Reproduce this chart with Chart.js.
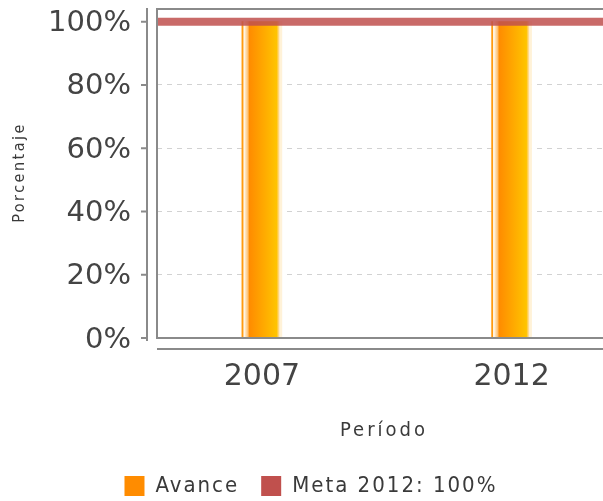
<!DOCTYPE html>
<html>
<head>
<meta charset="utf-8">
<script src="https://cdn.jsdelivr.net/npm/chart.js@4/dist/chart.umd.min.js"></script>
<style>
  html, body { margin: 0; padding: 0; background: #fff; overflow: hidden; }
  #wrap { width: 603px; height: 501px; overflow: hidden; }
  #box { width: 622px; height: 501px; }
</style>
</head>
<body>
<div id="wrap"><div id="box"><canvas id="myChart"></canvas></div></div>
<script>
// Data
const years = [2007, 2012];
const avance = [100, 100];
const meta = 100;
const yTicks = [0, 20, 40, 60, 80, 100];
const xRange = [2004.9, 2013.95];

const ORANGE = '#FF8C00';
const RED = '#C0504D';
const FONT = "'DejaVu Sans', sans-serif";
const FONT_C = "'DejaVu Sans Condensed', 'DejaVu Sans', sans-serif";

// gradient for each bar, built from its own pixel position
function barFill(c) {
    const chart = c.chart;
    if (!chart.chartArea || c.type !== 'data') return ORANGE;
    const x = chart.scales.x.getPixelForValue(c.raw.x);
    const g = chart.ctx.createLinearGradient(x - 22, 0, x + 18, 0);
    g.addColorStop(0, 'rgba(255,200,130,1)');
    g.addColorStop(0.04, '#ff9a10');
    g.addColorStop(0.08, '#ff9a10');
    g.addColorStop(0.1, '#ffffff');
    g.addColorStop(0.14, '#ffe4bd');
    g.addColorStop(0.2, '#ffc070');
    g.addColorStop(0.24, '#ff8c00');
    g.addColorStop(0.92, '#ffc400');
    g.addColorStop(0.97, '#ffd888');
    g.addColorStop(1, '#fff2d8');
    return g;
}

// plot frame and the detached axis lines
const framePlugin = {
    id: 'frame',
    afterDatasetsDraw(chart) {
        const { ctx, chartArea: a, scales } = chart;
        ctx.save();
        ctx.strokeStyle = '#8a8a8a';
        ctx.lineWidth = 2;
        ctx.beginPath();
        ctx.moveTo(chart.width, a.top);
        ctx.lineTo(a.left, a.top);
        ctx.lineTo(a.left, a.bottom);
        ctx.lineTo(chart.width, a.bottom);
        ctx.stroke();
        // y axis line
        const ax = a.left - 10;
        ctx.beginPath();
        ctx.moveTo(ax, a.top - 1);
        ctx.lineTo(ax, a.bottom + 3);
        yTicks.forEach(function(v) {
            const y = scales.y.getPixelForValue(v);
            ctx.moveTo(ax - 6, y);
            ctx.lineTo(ax, y);
        });
        ctx.stroke();
        // x axis line
        const ay = a.bottom + 11;
        ctx.beginPath();
        ctx.moveTo(a.left, ay);
        ctx.lineTo(chart.width, ay);
        ctx.stroke();
        ctx.restore();
    }
};

// axis titles and legend, drawn with the wide letter spacing of the original
const textPlugin = {
    id: 'spacedText',
    afterDraw(chart) {
        const { ctx, chartArea: a } = chart;
        ctx.save();
        ctx.fillStyle = '#3a3a3a';
        ctx.textBaseline = 'middle';

        ctx.letterSpacing = '3px';
        ctx.font = '20px ' + FONT_C;
        ctx.textAlign = 'center';
        ctx.fillText('Período', (a.left + a.right) / 2 + 1, 431);

        ctx.save();
        ctx.letterSpacing = '2.5px';
        ctx.font = '16px ' + FONT_C;
        ctx.translate(20, (a.top + a.bottom) / 2);
        ctx.rotate(-Math.PI / 2);
        ctx.fillText('Porcentaje', 1, 0);
        ctx.restore();

        // legend
        const items = [
            { text: chart.data.datasets[1].label, color: ORANGE },
            { text: chart.data.datasets[0].label, color: RED }
        ];
        ctx.letterSpacing = '2px';
        ctx.font = '22px ' + FONT_C;
        ctx.textAlign = 'left';
        const box = 20, gap = 11, between = 22;
        let total = 0;
        items.forEach(function(it, i) {
            it.w = ctx.measureText(it.text).width;
            total += box + gap + it.w + (i ? 0 : between);
        });
        let x = chart.width / 2 - total / 2;
        const cy = 486;
        items.forEach(function(it) {
            ctx.fillStyle = it.color;
            ctx.fillRect(x, cy - box / 2, box, box);
            x += box + gap;
            ctx.fillStyle = '#3a3a3a';
            ctx.fillText(it.text, x, cy);
            x += it.w + between;
        });
        ctx.restore();
    }
};

const ctx = document.getElementById('myChart').getContext('2d');
const chart = new Chart(ctx, {
    type: 'bar',
    data: {
        datasets: [
            {
                label: 'Meta 2012: 100%',
                type: 'line',
                data: xRange.map(function(x) { return { x: x, y: meta }; }),
                borderColor: 'rgba(192,80,77,0.85)',
                backgroundColor: RED,
                borderWidth: 8,
                pointRadius: 0,
                fill: false,
                order: 0
            },
            {
                label: 'Avance',
                data: years.map(function(y, i) { return { x: y, y: avance[i] }; }),
                backgroundColor: barFill,
                borderWidth: 0,
                barThickness: 40,
                order: 1
            }
        ]
    },
    options: {
        responsive: true,
        maintainAspectRatio: false,
        animation: false,
        layout: { autoPadding: false, padding: { left: 0, right: 13, top: 9, bottom: 0 } },
        scales: {
            x: {
                type: 'linear',
                min: xRange[0],
                max: xRange[1],
                offset: false,
                afterBuildTicks: function(s) { s.ticks = years.map(function(v) { return { value: v }; }); },
                afterFit: function(s) {
                    s.height = 163;
                    s.paddingLeft = 0; s.paddingRight = 0; s.paddingTop = 0; s.paddingBottom = 0;
                },
                grid: { display: false },
                border: { display: false },
                ticks: {
                    padding: 13,
                    color: '#444',
                    font: { family: FONT, size: 30 },
                    callback: function(v) { return String(v); }
                }
            },
            y: {
                min: 0,
                max: 104,
                afterBuildTicks: function(s) { s.ticks = yTicks.map(function(v) { return { value: v }; }); },
                afterFit: function(s) {
                    s.width = 157;
                    s.paddingLeft = 0; s.paddingRight = 0; s.paddingTop = 0; s.paddingBottom = 0;
                },
                grid: {
                    drawTicks: false,
                    color: function(c) { return (c.tick && (c.tick.value === 0 || c.tick.value === 100)) ? 'rgba(0,0,0,0)' : '#d2d2d2'; },
                    lineWidth: 1
                },
                border: { display: false, dash: [5, 5] },
                ticks: {
                    padding: 26,
                    labelOffset: 2,
                    color: '#444',
                    font: { family: FONT, size: 29 },
                    callback: function(v) { return v + '%'; }
                }
            }
        },
        plugins: {
            legend: { display: false },
            tooltip: { enabled: false }
        }
    },
    plugins: [framePlugin, textPlugin]
});
</script>
</body>
</html>
